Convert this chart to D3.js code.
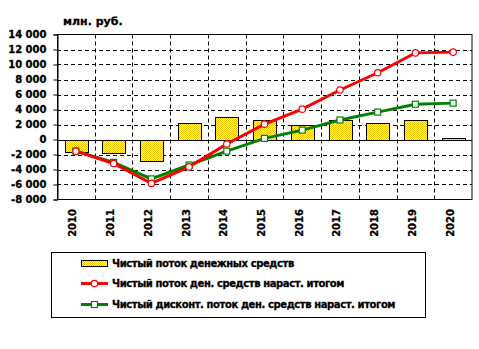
<!DOCTYPE html>
<html>
<head>
<meta charset="utf-8">
<script src="https://cdn.jsdelivr.net/npm/d3@7"></script>
<style>
  html, body { margin: 0; padding: 0; background: #fff; }
  svg { display: block; }
  text { font-family: "DejaVu Sans", sans-serif; font-weight: bold; fill: #000; stroke: #000; stroke-width: 0.3px; }
</style>
</head>
<body>
<svg id="chart" width="479" height="349"></svg>
<script>
// Годы проекта
const years = ["2010","2011","2012","2013","2014","2015","2016","2017","2018","2019","2020"];
// Чистый поток денежных средств, млн. руб.
const netFlow = [-1600, -1750, -2800, 2250, 3050, 2650, 1950, 2550, 2250, 2650, 200];
// Чистый поток ден. средств нарастающим итогом
const cumFlow = [-1550, -3200, -5850, -3650, -600, 2050, 4050, 6600, 8900, 11550, 11650];
// Чистый дисконтированный поток нарастающим итогом
const cumDiscFlow = [-1550, -3050, -5250, -3400, -1550, 150, 1250, 2600, 3650, 4700, 4850];
// Деления вертикальной оси
const yTicks = [-8000, -6000, -4000, -2000, 0, 2000, 4000, 6000, 8000, 10000, 12000, 14000];
const legendLabels = [
  "Чистый поток денежных средств",
  "Чистый поток ден. средств нараст. итогом",
  "Чистый дисконт. поток ден. средств нараст. итогом"
];

const svg = d3.select("#chart");
const plot = { left: 57, right: 472, top: 34.5, bottom: 199.5 };

const x = d3.scaleBand().domain(years).range([plot.left, plot.right]).padding(0);
const y = d3.scaleLinear().domain([-8000, 14000]).range([plot.bottom, plot.top]);
const cx = d => x(d) + x.bandwidth() / 2;

const ru = d3.formatLocale({ decimal: ",", thousands: "\u00a0", grouping: [3], currency: ["", " руб."], minus: "-" });
const fmt = ru.format(",d");

// Штриховка столбцов
const defs = svg.append("defs");
const pat = defs.append("pattern").attr("id", "hatch")
  .attr("width", 2).attr("height", 2).attr("patternUnits", "userSpaceOnUse");
pat.append("rect").attr("width", 2).attr("height", 2).attr("fill", "#ffff66");
pat.append("rect").attr("width", 1).attr("height", 1).attr("fill", "#f5c800");
pat.append("rect").attr("x", 1).attr("y", 1).attr("width", 1).attr("height", 1).attr("fill", "#f5c800");

// Горизонтальная сетка
svg.append("g").selectAll("line").data(yTicks.filter(v => v !== 0 && v !== 14000 && v !== -8000))
  .join("line")
  .attr("x1", plot.left).attr("x2", plot.right)
  .attr("y1", d => Math.round(y(d)) + 0.5).attr("y2", d => Math.round(y(d)) + 0.5)
  .attr("stroke", "#000").attr("stroke-dasharray", "4,3");

// Вертикальная сетка по границам категорий
svg.append("g").selectAll("line").data(years.slice(1))
  .join("line")
  .attr("x1", d => Math.round(x(d)) + 0.5).attr("x2", d => Math.round(x(d)) + 0.5)
  .attr("y1", plot.top).attr("y2", plot.bottom)
  .attr("stroke", "#000").attr("stroke-dasharray", "4,3");

// Рамка области построения
svg.append("rect")
  .attr("x", plot.left + 0.5).attr("y", plot.top)
  .attr("width", plot.right - plot.left - 0.5).attr("height", plot.bottom - plot.top)
  .attr("fill", "none").attr("stroke", "#000");

// Столбцы
const bw = x.bandwidth() * 0.6;
svg.append("g").selectAll("rect").data(netFlow)
  .join("rect")
  .attr("x", (d, i) => Math.round(cx(years[i]) - bw / 2) + 0.5)
  .attr("width", Math.round(bw))
  .attr("y", d => Math.round(y(Math.max(0, d))) + 0.5)
  .attr("height", d => Math.abs(Math.round(y(d)) - Math.round(y(0))))
  .attr("fill", "url(#hatch)").attr("stroke", "#000").attr("stroke-width", 1);

// Нулевая линия
svg.append("line")
  .attr("x1", plot.left).attr("x2", plot.right)
  .attr("y1", Math.round(y(0)) + 0.5).attr("y2", Math.round(y(0)) + 0.5)
  .attr("stroke", "#000");

// Ось значений
const yAxis = svg.append("g")
  .attr("transform", `translate(${plot.left + 0.5},0)`)
  .call(d3.axisLeft(y).tickValues(yTicks).tickSize(4).tickPadding(7).tickFormat(fmt));
yAxis.select(".domain").attr("stroke", "#000");
yAxis.selectAll(".tick line").attr("stroke", "#000");
yAxis.selectAll("text").style("font-size", "10px").style("font-family", "'DejaVu Sans', sans-serif").style("font-weight", "bold");

// Подписи годов
svg.append("g").selectAll("text").data(years)
  .join("text")
  .attr("transform", d => `translate(${cx(d) + 0.5},209) rotate(-90)`)
  .attr("text-anchor", "end")
  .style("font-size", "10px")
  .text(d => d);

// Единицы измерения
svg.append("text").attr("x", 63).attr("y", 25).style("font-size", "11px").text("млн. руб.");

// Линии нарастающим итогом
const line = d3.line().x((d, i) => cx(years[i])).y(d => y(d));
svg.append("path").datum(cumDiscFlow).attr("d", line)
  .attr("fill", "none").attr("stroke", "#008000").attr("stroke-width", 3);
svg.append("g").selectAll("rect").data(cumDiscFlow)
  .join("rect")
  .attr("x", (d, i) => cx(years[i]) - 3).attr("y", d => y(d) - 3)
  .attr("width", 6).attr("height", 6)
  .attr("fill", "#fff").attr("stroke", "#008000").attr("stroke-width", 1.2);

svg.append("path").datum(cumFlow).attr("d", line)
  .attr("fill", "none").attr("stroke", "#ff0000").attr("stroke-width", 3);
svg.append("g").selectAll("circle").data(cumFlow)
  .join("circle")
  .attr("cx", (d, i) => cx(years[i])).attr("cy", d => y(d)).attr("r", 3.2)
  .attr("fill", "#fff").attr("stroke", "#ff0000").attr("stroke-width", 1.2);

// Легенда
const lg = svg.append("g");
lg.append("rect").attr("x", 51.5).attr("y", 252.5).attr("width", 374).attr("height", 65)
  .attr("fill", "#fff").attr("stroke", "#000");
const rowsY = [263, 283.5, 304.5];
lg.append("rect").attr("x", 81.5).attr("y", 260.5).attr("width", 26).attr("height", 6)
  .attr("fill", "url(#hatch)").attr("stroke", "#000");
lg.append("line").attr("x1", 81).attr("x2", 108).attr("y1", rowsY[1]).attr("y2", rowsY[1])
  .attr("stroke", "#ff0000").attr("stroke-width", 3);
lg.append("circle").attr("cx", 94.5).attr("cy", rowsY[1]).attr("r", 3.2)
  .attr("fill", "#fff").attr("stroke", "#ff0000").attr("stroke-width", 1.2);
lg.append("line").attr("x1", 81).attr("x2", 108).attr("y1", rowsY[2]).attr("y2", rowsY[2])
  .attr("stroke", "#008000").attr("stroke-width", 3);
lg.append("rect").attr("x", 91.5).attr("y", rowsY[2] - 3).attr("width", 6).attr("height", 6)
  .attr("fill", "#fff").attr("stroke", "#008000").attr("stroke-width", 1.2);
lg.selectAll("text.lbl").data(legendLabels)
  .join("text").attr("class", "lbl")
  .attr("x", 112).attr("y", (d, i) => rowsY[i] + 3.5)
  .style("font-size", "10px")
  .style("letter-spacing", "-0.4px")
  .text(d => d);
</script>
</body>
</html>
